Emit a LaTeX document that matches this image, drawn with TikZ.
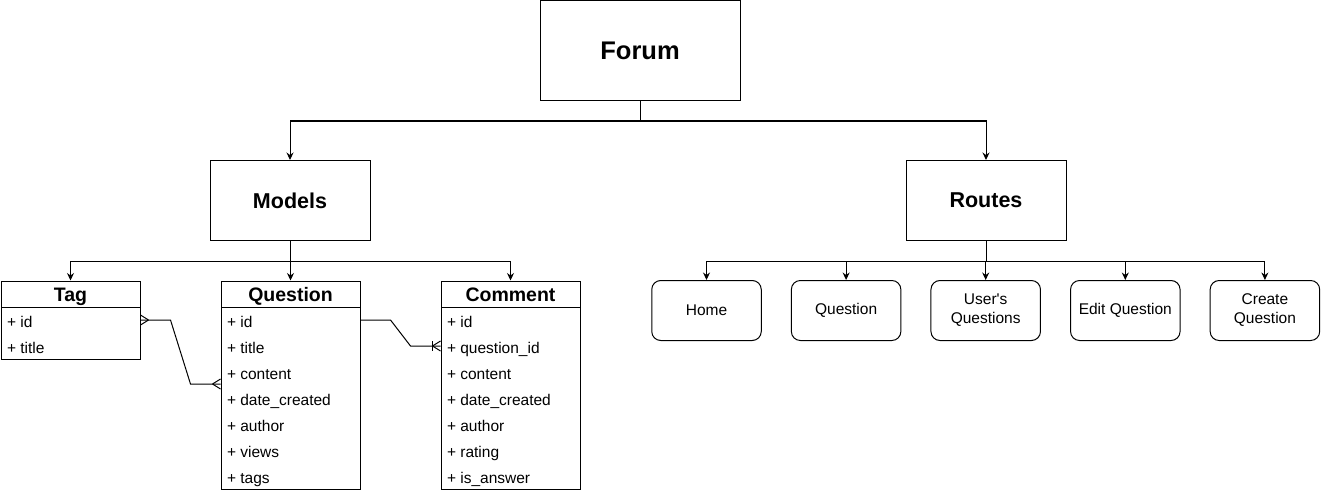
\documentclass[tikz,border=0pt]{standalone}
\usepackage{fontspec}
\setmainfont{Liberation Sans}[Ligatures=TeXOff]
\usetikzlibrary{arrows.meta, positioning}

\tikzset{
  arr/.style={-{Stealth[length=7.5pt, width=7pt, inset=2.5pt]}},
  topbox/.style={draw, minimum width=160pt, minimum height=80pt, font=\fontsize{21.5}{25}\selectfont\bfseries},
  entity/.style={draw, minimum width=139pt, anchor=north west},
  head/.style={draw, minimum width=139pt, minimum height=26.5pt, anchor=north, text height=14pt, text depth=0pt, font=\fontsize{19.5}{23}\selectfont\bfseries},
  row/.style={anchor=west, inner xsep=6pt, text height=15pt, text depth=0pt, font=\fontsize{15.5}{18.6}\selectfont},
  page/.style={draw, rounded corners=9pt, minimum width=109.5pt, minimum height=60pt, align=center, font=\fontsize{15.5}{19}\selectfont},
}

\begin{document}
\begin{tikzpicture}[x=1pt, y=-1pt, line width=1pt, node distance=29.1pt]
    \useasboundingbox (0,0) rectangle (1321,492);
    \node[topbox, minimum width=200pt, minimum height=100pt, font=\fontsize{25.5}{29}\selectfont\bfseries] (forum) at (640,50.5) {Forum};
    \node[topbox] (models) at (290,200.5) {Models};
    \node[topbox] (routes) at (986,200.5) {Routes};
    \draw[arr] (forum.south) -- ++(0,20) -| (models.north);
    \draw[arr] (forum.south) -- ++(0,20) -| (routes.north);
    % models
    \node[entity, minimum height=78pt] (tagbox) at (0.5,280.5) {};
    \node[head] (tag) at (tagbox.north) {Tag};
    \node[entity, minimum height=208pt] (qbox) at (220.5,280.5) {};
    \node[head] (question) at (qbox.north) {Question};
    \node[entity, minimum height=208pt] (cbox) at (440.5,280.5) {};
    \node[head] (comment) at (cbox.north) {Comment};
    \foreach \t [count=\i] in {id, title}
        \node[row] (t\i) at (0.5,294+26*\i) {+ \t};
    \foreach \t [count=\i] in {id, title, content, date\_created, author, views, tags}
        \node[row] (q\i) at (220.5,294+26*\i) {+ \t};
    \foreach \t [count=\i] in {id, question\_id, content, date\_created, author, rating, is\_answer}
        \node[row] (c\i) at (440.5,294+26*\i) {+ \t};
    \foreach \n in {tag, question, comment}
        \draw[arr] (models.south) -- ++(0,20) -| (\n.north);
    % relations
    \coordinate (tin) at (t1 -| tagbox.east);
    \coordinate (qin) at (220.5,384);
    \draw (tin) -- ++(30,0) -- ++(20,64) -- (qin);
    \draw (tin) ++(8,0) -- ++(-8,-5) ++(8,5) -- ++(-8,5);
    \draw (qin) ++(-8,0) -- ++(8,-5) ++(-8,5) -- ++(8,5);
    \coordinate (qout) at (q1 -| qbox.east);
    \coordinate (cin) at (c2 -| cbox.west);
    \draw (qout) -- ++(30,0) -- ++(20,26) -- (cin);
    \draw (cin) ++(-8,0) -- ++(8,-5) ++(-8,5) -- ++(8,5);
    \draw (cin) ++(-8.5,-5) -- ++(0,10);
    % routes
    \node[page] (home) at (706.5,310.5) {Home};
    \node[page, right=of home] (qpage) {Question};
    \node[page, right=of qpage] (userq) {User's\\Questions};
    \node[page, right=of userq] (editq) {Edit Question};
    \node[page, right=of editq] (createq) {Create\\Question};
    \foreach \n in {home, qpage, userq, editq, createq}
        \draw[arr] (routes.south) -- ++(0,20) -| (\n.north);
\end{tikzpicture}
\end{document}
